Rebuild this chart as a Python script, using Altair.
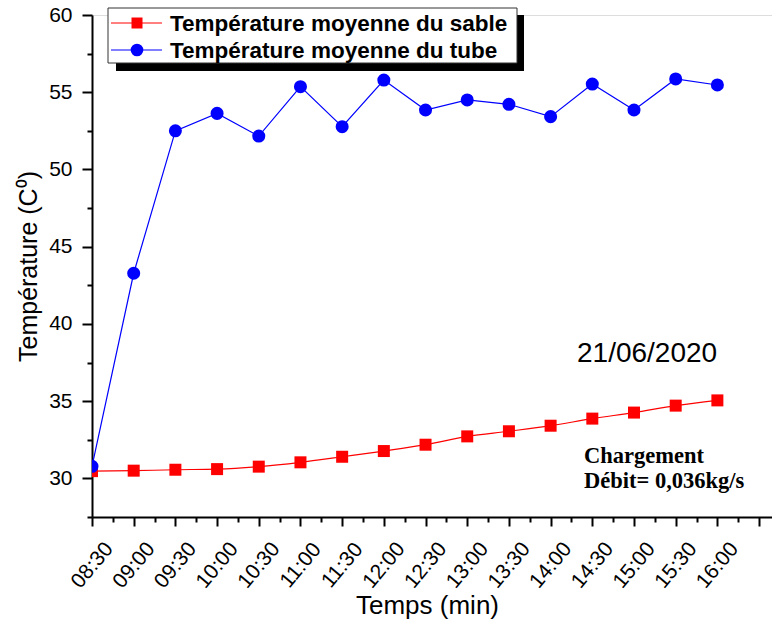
import altair as alt
import pandas as pd

# ---- data ----
times = ["08:30", "09:00", "09:30", "10:00", "10:30", "11:00", "11:30", "12:00",
         "12:30", "13:00", "13:30", "14:00", "14:30", "15:00", "15:30", "16:00"]
sable = [30.47, 30.50, 30.56, 30.60, 30.76, 31.04, 31.40, 31.77,
         32.18, 32.72, 33.05, 33.41, 33.87, 34.26, 34.71, 35.05]
tube = [30.78, 43.28, 52.50, 53.63, 52.16, 55.36, 52.77, 55.79,
        53.85, 54.50, 54.22, 53.42, 55.53, 53.85, 55.86, 55.47]
series_names = ["Température moyenne du sable", "Température moyenne du tube"]
series_colors = ["#FF0000", "#0000FF"]
date_label = "21/06/2020"
note_lines = ["Chargement", "Débit= 0,036kg/s"]

FONT = "Liberation Sans"
SERIF = "Liberation Serif"

def to_min(s):
    h, m = s.split(":")
    return int(h) * 60 + int(m) - (8 * 60 + 30)

t = [to_min(s) for s in times]
df_sable = pd.DataFrame({"t": t, "v": sable})
df_tube = pd.DataFrame({"t": t, "v": tube})
one = pd.DataFrame({"a": [0]})

x_vals = list(range(0, 481, 15))
y_vals = [27.5 + 2.5 * i for i in range(14)]
label_arr = "[" + ",".join("'%s'" % s for s in times) + "]"

x_axis = alt.Axis(
    values=x_vals,
    labelExpr=label_arr + "[datum.value/30] || ''",
    labelAngle=310, labelAlign="center", labelBaseline="middle",
    labelPadding=39, labelFlush=False, labelOverlap=False, labelBound=False,
    labelFont=FONT, labelFontSize=21, labelColor="black",
    tickSize={"condition": {"test": "datum.value % 30 === 0", "value": 9}, "value": 5},
    tickWidth=2, tickColor="black", domainWidth=2, domainColor="black",
    grid=False,
    title="Temps (min)", titleFont=FONT, titleFontSize=26, titleFontWeight="normal",
    titleColor="black", titleX=335, titleY=96, titleAlign="center",
    titleBaseline="alphabetic",
)
y_axis = alt.Axis(
    values=y_vals,
    labelExpr="datum.value % 5 === 0 ? datum.value : ''",
    labelPadding=10, labelFlush=False, labelOverlap=False,
    labelFont=FONT, labelFontSize=21, labelColor="black",
    tickSize={"condition": {"test": "datum.value % 5 === 0", "value": 10}, "value": 5},
    tickWidth=2, tickColor="black", domainWidth=2, domainColor="black",
    grid=False,
    title="Température (C⁰)", titleFont=FONT, titleFontSize=25, titleFontWeight="normal",
    titleColor="black", titleAngle=270, titleX=-64, titleY=251,
    titleAlign="center", titleBaseline="middle",
)

x_enc = alt.X("t:Q", scale=alt.Scale(domain=[0, 489.3], nice=False, zero=False), axis=x_axis)
y_enc = alt.Y("v:Q", scale=alt.Scale(domain=[27.5, 60], nice=False, zero=False), axis=y_axis)

sable_line = alt.Chart(df_sable).mark_line(
    color=series_colors[0], strokeWidth=1.2, interpolate="monotone", clip=True
).encode(x=x_enc, y=y_enc)
sable_pts = alt.Chart(df_sable).mark_point(
    shape="square", filled=True, size=144, opacity=1, color=series_colors[0], clip=True
).encode(x=x_enc, y=y_enc)
tube_line = alt.Chart(df_tube).mark_line(
    color=series_colors[1], strokeWidth=1.2, clip=True
).encode(x=x_enc, y=y_enc)
tube_pts = alt.Chart(df_tube).mark_point(
    shape="circle", filled=True, size=170, opacity=1, color=series_colors[1], clip=True
).encode(x=x_enc, y=y_enc)

# ---- legend (drawn manually, with Origin-style drop shadow) ----
shadow = alt.Chart(one).mark_rect(color="black").encode(
    x=alt.value(24), x2=alt.value(432), y=alt.value(0), y2=alt.value(56))
box = alt.Chart(one).mark_rect(fill="white", stroke="#333333", strokeWidth=1).encode(
    x=alt.value(16), x2=alt.value(425), y=alt.value(-7), y2=alt.value(48))
leg = []
for i, (name, col, shp, sz) in enumerate(zip(series_names, series_colors,
                                             ["square", "circle"], [121, 160])):
    yy = 8 + 27 * i
    leg.append(alt.Chart(one).mark_rule(color=col, strokeWidth=1).encode(
        x=alt.value(19), x2=alt.value(70), y=alt.value(yy)))
    leg.append(alt.Chart(one).mark_point(shape=shp, filled=True, size=sz, opacity=1,
                                         color=col).encode(x=alt.value(45), y=alt.value(yy)))
    leg.append(alt.Chart(one).mark_text(text=name, font=FONT, fontSize=22.5, fontWeight="bold",
                                        align="left", baseline="middle", color="black").encode(
        x=alt.value(78), y=alt.value(yy + 1)))

date_txt = alt.Chart(one).mark_text(text=date_label, font=FONT, fontSize=28, align="left",
                                    baseline="alphabetic", color="black").encode(
    x=alt.value(485), y=alt.value(347))
note1 = alt.Chart(one).mark_text(text=note_lines[0], font=SERIF, fontSize=22.5, fontWeight="bold",
                                 align="left", baseline="alphabetic", color="black").encode(
    x=alt.value(492), y=alt.value(448))
note2 = alt.Chart(one).mark_text(text=note_lines[1], font=SERIF, fontSize=22.5, fontWeight="bold",
                                 align="left", baseline="alphabetic", color="black").encode(
    x=alt.value(492), y=alt.value(473))

chart = alt.layer(
    sable_line, sable_pts, tube_line, tube_pts, shadow, box, *leg, date_txt, note1, note2
).properties(
    width=680, height=502,
    padding={"left": 92, "top": 15, "right": 0, "bottom": 105},
    autosize=alt.AutoSizeParams(type="none"),
).configure_view(stroke=None).configure(background="white")

chart.save("out.html", embed_options={"renderer": "svg", "actions": False})
